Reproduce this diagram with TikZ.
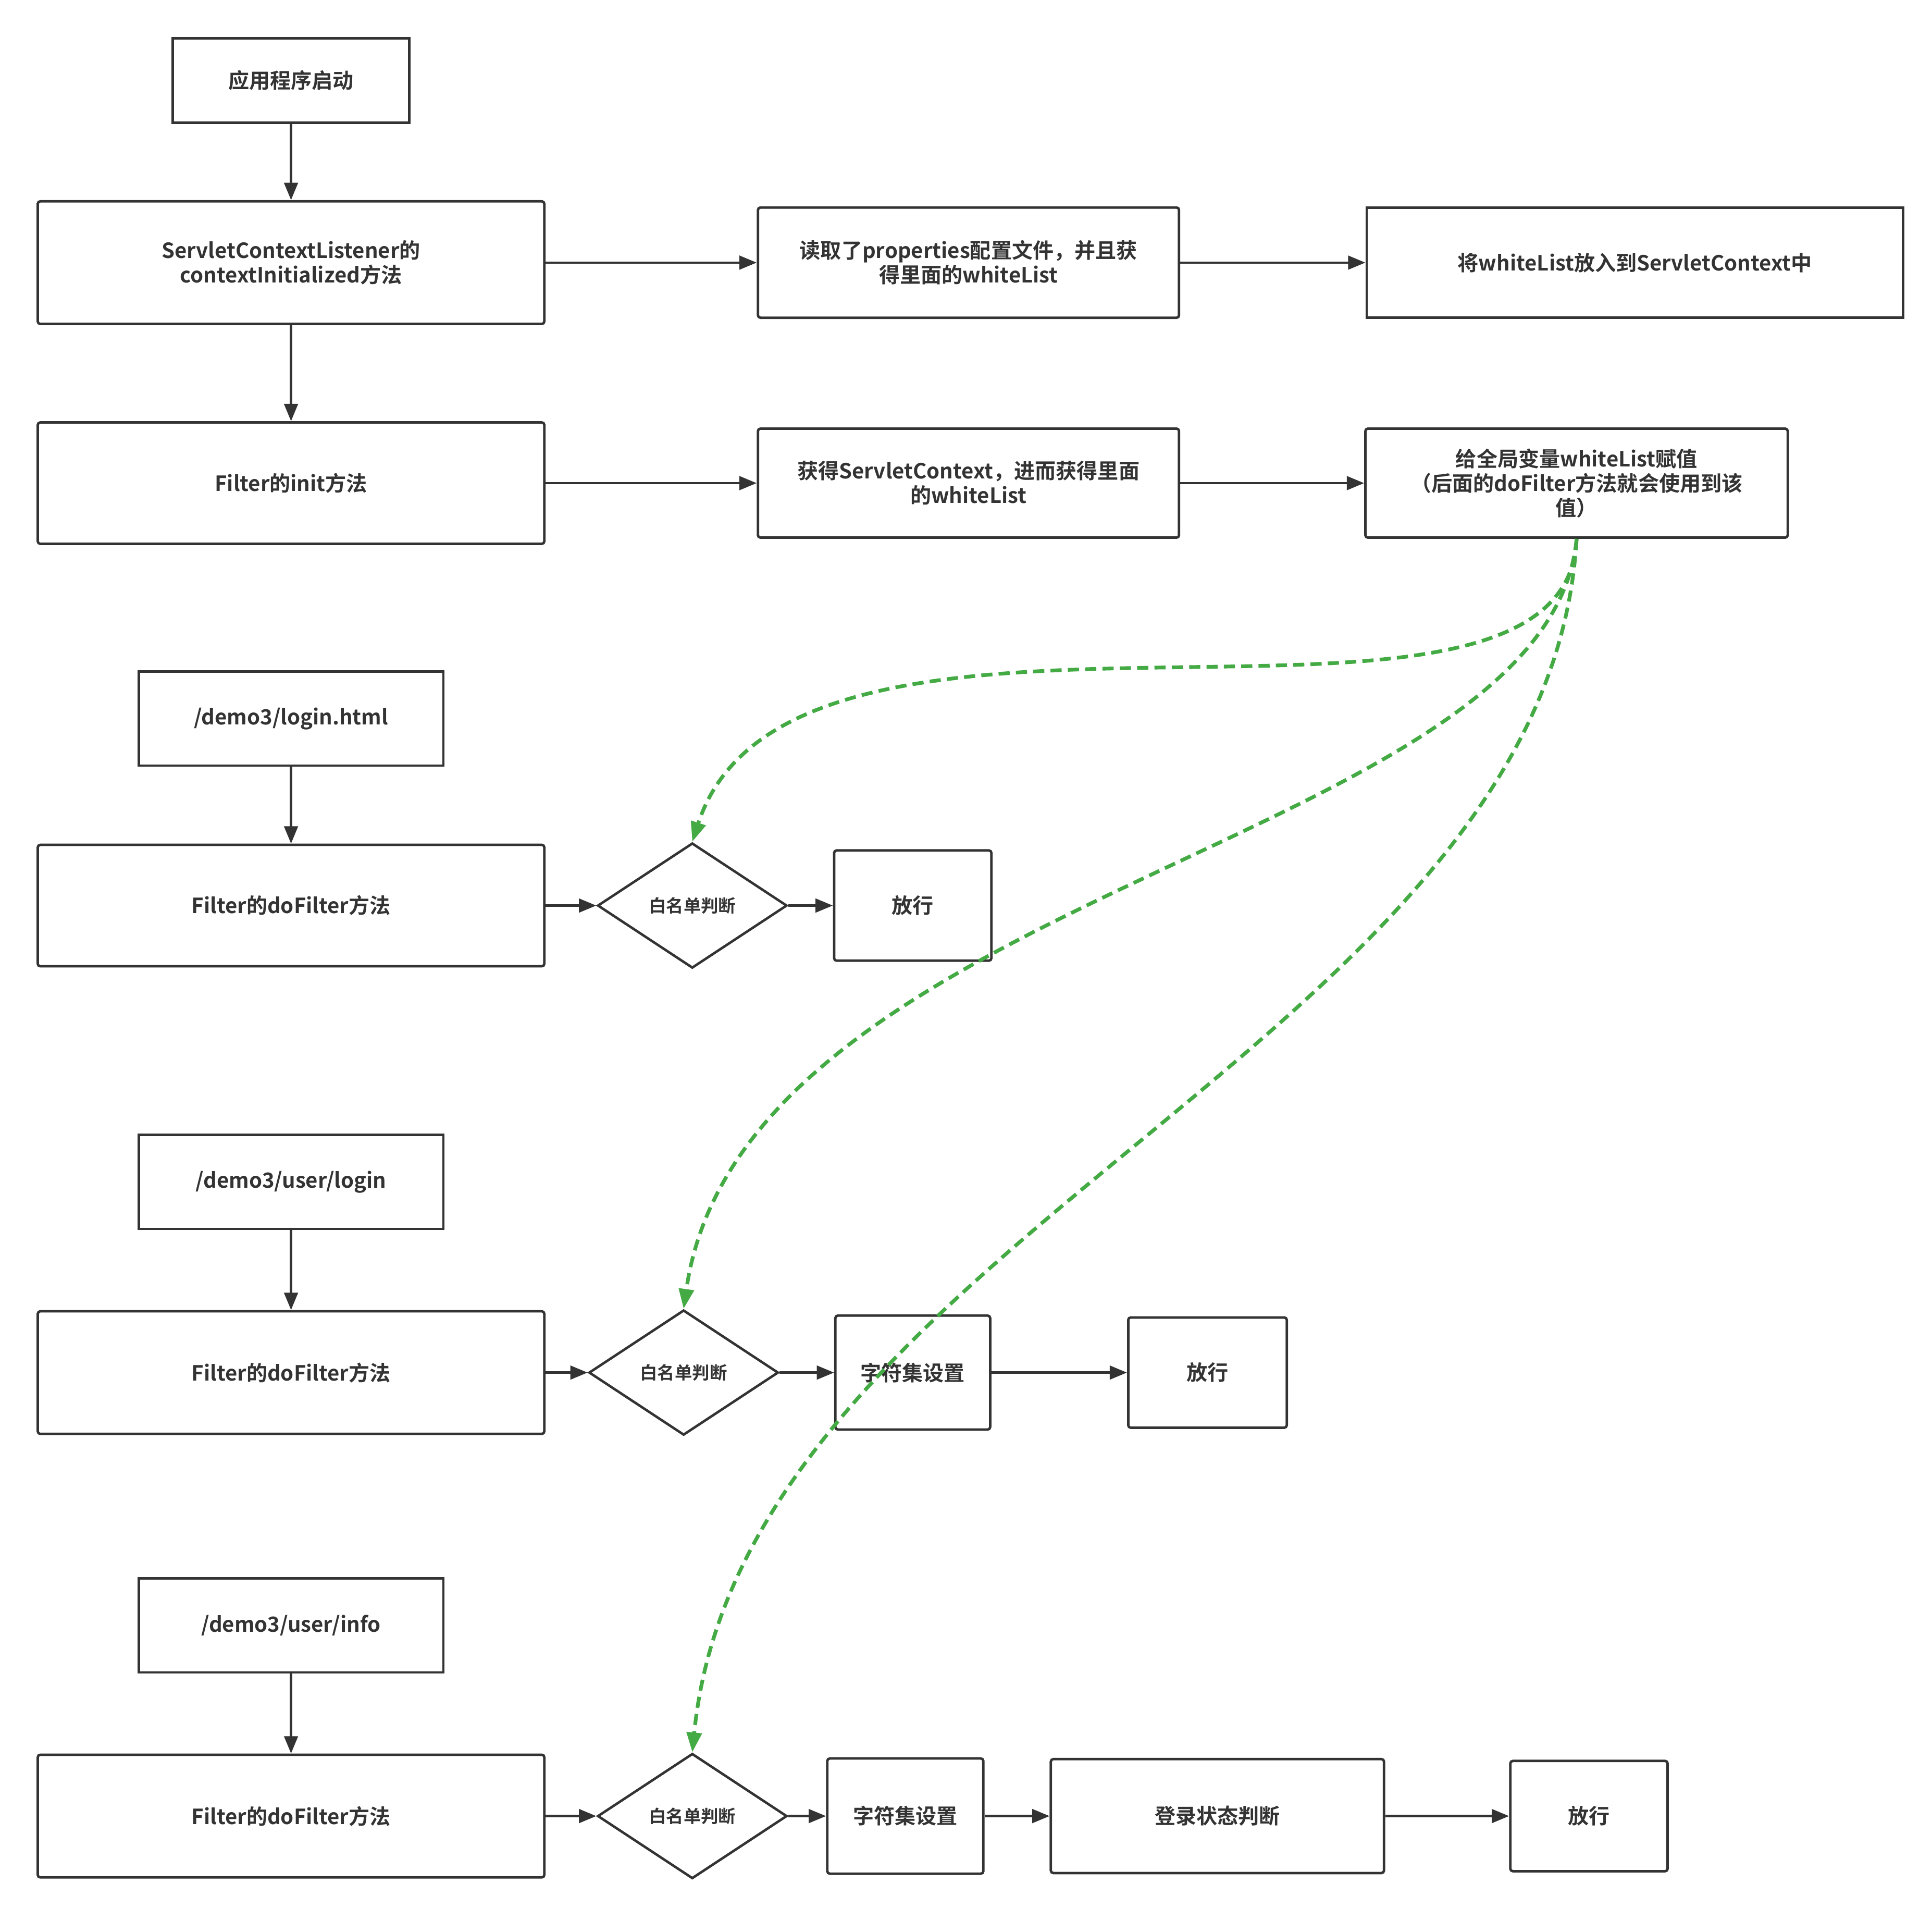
\documentclass[tikz,border=0pt]{standalone}
\usepackage{fontspec}
\setmainfont{Noto Sans CJK SC}[BoldFont={* Bold}]
\usetikzlibrary{arrows.meta,shapes.geometric}
\definecolor{ink}{HTML}{333333}
\definecolor{grn}{HTML}{44AA44}
\tikzset{
 box/.style={draw=ink,line width=2mm,rounded corners=2mm,align=center,font=\fontsize{48}{56}\selectfont\bfseries,text=ink,inner sep=0pt},
 sq/.style={box,rounded corners=0mm},
 dia/.style={draw=ink,line width=2mm,diamond,aspect=1.52,inner sep=0pt,minimum width=153mm,minimum height=101mm,font=\fontsize{40}{48}\selectfont\bfseries,text=ink},
 arr/.style={draw=ink,line width=2mm,-{Triangle[length=14mm,width=11mm]}},
 gd/.style={draw=grn,line width=3mm,dash pattern=on 9mm off 5mm,-{Triangle[length=16mm,width=12mm]}}
}
\begin{document}
\begin{tikzpicture}[x=1mm,y=-1mm]
\fill[white] (0,0) rectangle (1560,1540);
\node[sq,minimum width=191mm,minimum height=68mm] (start) at (235,65) {应用程序启动};
\node[box,minimum width=409mm,minimum height=99mm] (scl) at (235,212) {ServletContextListener的\\contextInitialized方法};
\node[box,minimum width=340mm,minimum height=89mm] (read) at (782,212) {读取了properties配置文件，并且获\\得里面的whiteList};
\node[sq,minimum width=433mm,minimum height=89mm] (put) at (1320,212) {将whiteList放入到ServletContext中};
\node[box,minimum width=409mm,minimum height=98mm] (finit) at (235,390) {Filter的init方法};
\node[box,minimum width=340mm,minimum height=88mm] (get) at (782,390) {获得ServletContext，进而获得里面\\的whiteList};
\node[box,minimum width=341mm,minimum height=88mm] (assign) at (1273,390) {给全局变量whiteList赋值\\（后面的doFilter方法就会使用到该\\值）};
\node[sq,minimum width=246mm,minimum height=76mm] (u1) at (235,580) {/demo3/login.html};
\node[box,minimum width=409mm,minimum height=98mm] (df1) at (235,731) {Filter的doFilter方法};
\node[dia] (d1) at (559,731) {白名单判断};
\node[box,minimum width=127mm,minimum height=89mm] (p1) at (737,731) {放行};
\node[sq,minimum width=246mm,minimum height=76mm] (u2) at (235,954) {/demo3/user/login};
\node[box,minimum width=409mm,minimum height=99mm] (df2) at (235,1108) {Filter的doFilter方法};
\node[dia] (d2) at (552,1108) {白名单判断};
\node[box,minimum width=125mm,minimum height=92mm] (cs2) at (737,1108) {字符集设置};
\node[box,minimum width=128mm,minimum height=89mm] (p2) at (975,1108) {放行};
\node[sq,minimum width=246mm,minimum height=76mm] (u3) at (235,1312) {/demo3/user/info};
\node[box,minimum width=409mm,minimum height=99mm] (df3) at (235,1466) {Filter的doFilter方法};
\node[dia] (d3) at (559,1466) {白名单判断};
\node[box,minimum width=126mm,minimum height=93mm] (cs3) at (731,1466) {字符集设置};
\node[box,minimum width=269mm,minimum height=92mm] (lg) at (983,1466) {登录状态判断};
\node[box,minimum width=127mm,minimum height=89mm] (p3) at (1283,1466) {放行};
\draw[arr] (start) -- (scl);
\draw[arr] (scl) -- (read);
\draw[arr] (read) -- (put);
\draw[arr] (scl) -- (finit);
\draw[arr] (finit) -- (get);
\draw[arr] (get) -- (assign);
\draw[arr] (u1) -- (df1);
\draw[arr] (df1) -- (d1);
\draw[arr] (d1) -- (p1);
\draw[arr] (u2) -- (df2);
\draw[arr] (df2) -- (d2);
\draw[arr] (d2) -- (cs2);
\draw[arr] (cs2) -- (p2);
\draw[arr] (u3) -- (df3);
\draw[arr] (df3) -- (d3);
\draw[arr] (d3) -- (cs3);
\draw[arr] (cs3) -- (lg);
\draw[arr] (lg) -- (p3);
\draw[gd] (assign.south) .. controls (1265,640) and (640,430) .. (d1.north);
\draw[gd] (assign.south) .. controls (1250,680) and (600,720) .. (d2.north);
\draw[gd] (assign.south) .. controls (1250,840) and (600,1000) .. (d3.north);
\end{tikzpicture}
\end{document}
